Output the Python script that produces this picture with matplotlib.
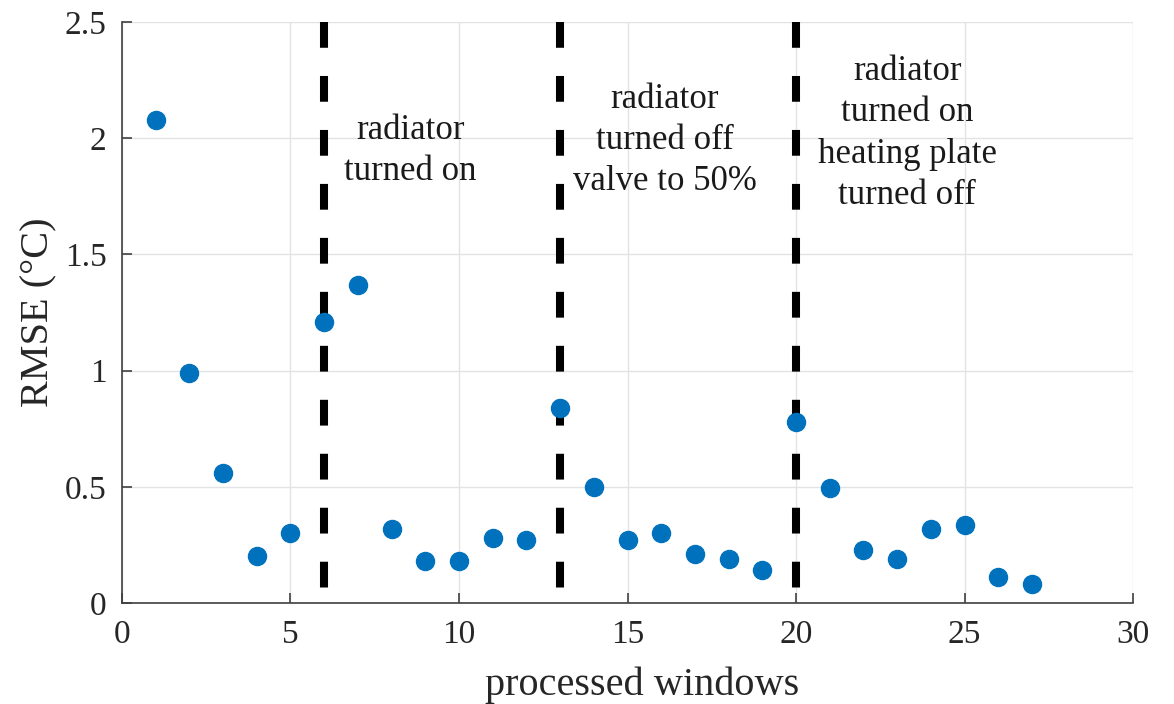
import numpy as np
import matplotlib.pyplot as plt

# RMSE per processed window
windows = np.arange(1, 28)
rmse = [2.08, 0.99, 0.56, 0.20, 0.30, 1.21, 1.37, 0.32, 0.18, 0.18,
        0.28, 0.27, 0.84, 0.50, 0.27, 0.30, 0.21, 0.19, 0.14, 0.78,
        0.495, 0.23, 0.19, 0.32, 0.335, 0.11, 0.08]

# event markers and their notes
event_x = [6, 13, 20]
note_x = [8.55, 16.1, 23.3]
note_y = [1.945, 1.99, 2.02]
notes = ["radiator\nturned on",
         "radiator\nturned off\nvalve to 50%",
         "radiator\nturned on\nheating plate\nturned off"]

plt.rcParams['font.family'] = ['Liberation Serif', 'DejaVu Serif']

fig = plt.figure(figsize=(11.74, 7.04), dpi=100)
ax = fig.add_axes([0.1039, 0.1435, 0.8612, 0.8253])

ax.grid(True, color='#e3e3e3', linewidth=1.0)
ax.set_axisbelow(True)

# dashed event lines, drawn top-down so the pattern starts with a dash
for xv in event_x:
    ax.plot([xv, xv], [2.5, 0], color='black', linewidth=5.8,
            linestyle=(0, (3.2, 3.5)), dash_capstyle='butt', zorder=2)

ax.plot(windows, rmse, 'o', color='#0072BD', markersize=13, zorder=3)

for x, y, t in zip(note_x, note_y, notes):
    ax.text(x, y, t, ha='center', va='center', fontsize=25,
            linespacing=1.33, color='#1a1a1a')

ax.set_xlim(0, 30)
ax.set_ylim(0, 2.5)
ax.set_xticks([0, 5, 10, 15, 20, 25, 30])
ax.set_yticks([0, 0.5, 1, 1.5, 2, 2.5])
ax.set_yticklabels(['0', '0.5', '1', '1.5', '2', '2.5'])

for side in ['top', 'right']:
    ax.spines[side].set_visible(False)
for side in ['left', 'bottom']:
    ax.spines[side].set_color('#404040')
    ax.spines[side].set_linewidth(1.2)

ax.tick_params(direction='in', length=7, width=1.2, colors='#404040',
               labelsize=24, labelcolor='#262626')
ax.tick_params(axis='x', pad=12)
ax.tick_params(axis='y', pad=11)

ax.set_xlabel('processed windows', fontsize=29, color='#262626')
ax.xaxis.set_label_coords(0.514, -0.11)
ax.set_ylabel('RMSE (°C)', fontsize=29, color='#262626')
ax.yaxis.set_label_coords(-0.064, 0.5)

fig.savefig('out.png', dpi=100)
